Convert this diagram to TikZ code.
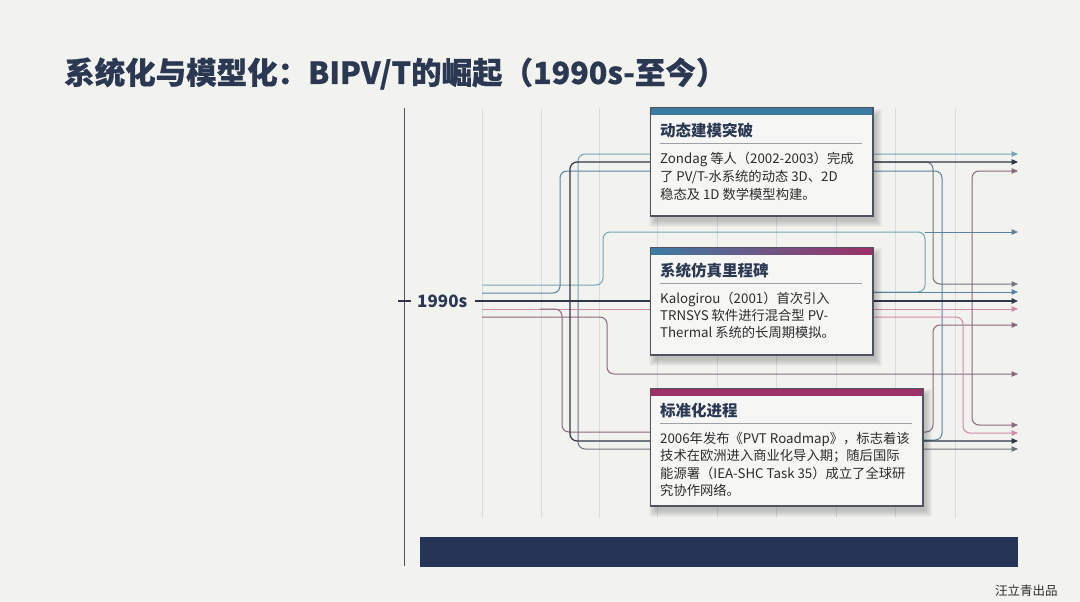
\documentclass[tikz,border=0pt]{standalone}
\usepackage{fontspec}
\setmainfont{Noto Sans CJK SC}
\usetikzlibrary{arrows.meta}
\definecolor{bg}{HTML}{F2F2EF}
\definecolor{navy}{HTML}{2B3852}
\definecolor{gridc}{HTML}{D8DADD}
\definecolor{cTeal}{HTML}{74A6B8}
\definecolor{cBlue}{HTML}{5A82A1}
\definecolor{cDark}{HTML}{2F3647}
\definecolor{cPink}{HTML}{CF8BA8}
\definecolor{cMauve}{HTML}{8A687E}
\definecolor{cGray}{HTML}{6F747F}
\definecolor{stripBlue}{HTML}{3C7CA3}
\definecolor{stripMag}{HTML}{9C3168}
\definecolor{barNavy}{HTML}{243558}
\definecolor{cardfill}{HTML}{F6F6F4}
\definecolor{cardline}{HTML}{4E535E}
\definecolor{txt}{HTML}{2C2C2C}
\newcommand\mysoftshadow[4]{\foreach \k in {0,...,6}{\fill[black,opacity=0.032] (#1+5-\k,#2+7-\k) rectangle (#3+4+\k,#4+6+\k);}}
\tikzset{
  conn/.style={line width=1pt, rounded corners=7pt},
  tip/.style={-{Triangle[length=6.5pt,width=5.5pt]}},
  gridline/.style={draw=gridc, line width=0.6pt},
  card/.style={draw=cardline, line width=1pt, fill=cardfill, inner sep=0pt, anchor=north west},
  cardtitle/.style={anchor=base west, inner sep=0pt, text=navy, font=\fontsize{15.5}{18}\selectfont\bfseries},
  cardbody/.style={anchor=base west, inner sep=0pt, text=txt, font=\fontsize{13.3}{16}\selectfont},
  divider/.style={draw=cardline!55, line width=0.6pt}
}
\begin{document}
\begin{tikzpicture}[x=1pt,y=-1pt]
\fill[bg] (0,0) rectangle (1080,602);
\useasboundingbox (0,0) rectangle (1080,602);

% title
\node[anchor=base west, inner sep=0pt, text=navy, font=\fontsize{30.5}{36}\selectfont\bfseries\addfontfeature{FakeBold=0.6}] (title) at (64,84) {系统化与模型化：BIPV/T的崛起（1990s-至今）};

% grid
\foreach \x in {482,541,599,657,717,776,836,895,955} \draw[gridline] (\x,108) -- (\x,518);

% axis and era label
\coordinate (axtop) at (404,108);
\coordinate (axbot) at (404,566);
\draw[cDark!85, line width=1pt] (axtop) -- (axbot);
\coordinate (tickL) at (398,301);
\coordinate (tickR) at (411,301);
\draw[cDark, line width=1.2pt] (tickL) -- (tickR);
\node[anchor=base west, inner sep=0pt, text=navy, font=\fontsize{17}{20}\selectfont\bfseries] (era) at (417,307) {1990s};

% connectors
\coordinate (hub) at (570,301);
\coordinate (s1) at (482,285);
\coordinate (s2) at (482,293);
\coordinate (s3) at (482,309);
\coordinate (s4) at (482,317);
\coordinate (j1) at (925,232);
\coordinate (e154) at (1018,154);
\coordinate (e162) at (1018,162);
\coordinate (e171) at (1018,171);
\coordinate (e232) at (1018,232);
\coordinate (e284) at (1018,284);
\coordinate (e292) at (1018,292);
\coordinate (e301) at (1018,301);
\coordinate (e309) at (1018,309);
\coordinate (e325) at (1018,325);
\coordinate (e374) at (1018,374);
\coordinate (e425) at (1018,425);
\coordinate (e433) at (1018,433);
\coordinate (e441) at (1018,441);
\coordinate (e449) at (1018,449);
\coordinate (b1r) at (860,162);
\coordinate (b2a) at (860,292);
\coordinate (b2b) at (860,317);
\coordinate (b3a) at (860,440);

\draw[conn, cTeal] (s1) -- (603,285) -- (603,232) -- (j1) -- (925,292) -- (b2a);
\draw[conn, cBlue, tip] (j1) -- (e232);
\draw[conn, cBlue] (s2) -- (560,293) -- (560,171) -- (942,171) -- (942,440) -- (b3a);
\draw[conn, cTeal, tip] (578,301) -- (578,154) -- (e154);
\draw[conn, cGray, tip] (578,301) -- (578,449) -- (e449);
\draw[conn, cPink, tip] (s3) -- (e309);
\draw[conn, cMauve, tip] (540,309) -- (562,309) -- (562,432) -- (933,432) -- (933,325) -- (e325);
\draw[conn, cGray, tip] (b1r) -- (933,162) -- (933,284) -- (e284);
\draw[conn, cMauve, tip] (s4) -- (607,317) -- (607,374) -- (e374);
\draw[conn, cBlue, tip] (b2a) -- (e292);
\draw[conn, cMauve, {Triangle[length=6.5pt,width=5.5pt]}-{Triangle[length=6.5pt,width=5.5pt]}] (e171) -- (972,171) -- (972,425) -- (e425);
\draw[conn, cPink, tip] (b2b) -- (963,317) -- (963,433) -- (e433);
\draw[conn, cDark, line width=1.2pt, tip] (hub) -- (570,162) -- (e162);
\draw[conn, cDark, line width=1.2pt, tip] (hub) -- (570,441) -- (e441);
\draw[cDark, line width=1.5pt, tip] (475,301) -- (e301);

% card 1
\mysoftshadow{650}{108}{872}{215}
\node[card, minimum width=222pt, minimum height=107pt] (box1) at (650,108) {};
\fill[stripBlue] (box1.north west) rectangle ++(222,7);
\draw[cardline, line width=1pt] (box1.north west) rectangle (box1.south east);
\node[cardtitle] (t1) at (660,136) {动态建模突破};
\draw[divider] (660,143) -- (862,143);
\node[cardbody] (b1a) at (660,164) {Zondag 等人（2002-2003）完成};
\node[cardbody] (b1b) at (660,181.5) {了 PV/T-水系统的动态 3D、2D};
\node[cardbody] (b1c) at (660,199) {稳态及 1D 数学模型构建。};

% card 2
\mysoftshadow{650}{247}{872}{354}
\node[card, minimum width=222pt, minimum height=107pt] (box2) at (650,247) {};
\shade[left color=stripBlue, right color=stripMag] (box2.north west) rectangle ++(222,7);
\draw[cardline, line width=1pt] (box2.north west) rectangle (box2.south east);
\node[cardtitle] (t2) at (660,276) {系统仿真里程碑};
\draw[divider] (660,283) -- (862,283);
\node[cardbody] (b2l1) at (660,303) {Kalogirou（2001）首次引入};
\node[cardbody] (b2l2) at (660,320) {TRNSYS 软件进行混合型 PV-};
\node[cardbody] (b2l3) at (660,337) {Thermal 系统的长周期模拟。};

% card 3
\mysoftshadow{650}{388}{922}{505}
\node[card, minimum width=272pt, minimum height=117pt] (box3) at (650,388) {};
\fill[stripMag] (box3.north west) rectangle ++(272,8);
\draw[cardline, line width=1pt] (box3.north west) rectangle (box3.south east);
\node[cardtitle] (t3) at (660,416) {标准化进程};
\draw[divider] (660,423) -- (912,423);
\node[cardbody] (b3l1) at (660,443) {2006年发布《PVT Roadmap》，标志着该};
\node[cardbody] (b3l2) at (660,460.6) {技术在欧洲进入商业化导入期；随后国际};
\node[cardbody] (b3l3) at (660,478.2) {能源署（IEA-SHC Task 35）成立了全球研};
\node[cardbody] (b3l4) at (660,495.8) {究协作网络。};

% bottom bar
\node[fill=barNavy, inner sep=0pt, anchor=north west, minimum width=598pt, minimum height=30pt] (bar) at (420,537) {};

% watermark
\node[anchor=base west, inner sep=0pt, text=txt, font=\fontsize{12.5}{15}\selectfont] (wm) at (995,595) {汪立青出品};
\end{tikzpicture}
\end{document}
